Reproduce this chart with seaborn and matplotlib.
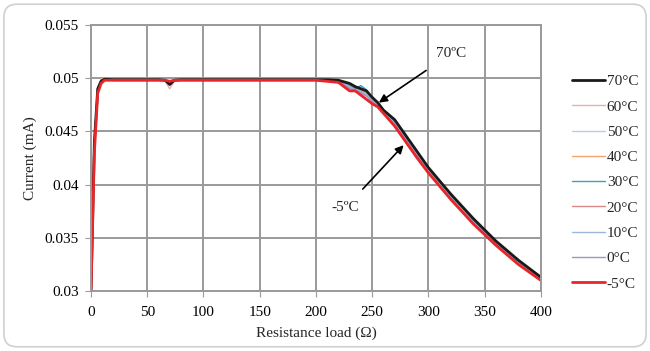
import numpy as np
import pandas as pd
import matplotlib
matplotlib.use('Agg')
import matplotlib.pyplot as plt
from matplotlib.patches import FancyBboxPatch
import seaborn as sns

# data
resistance = [0, 3, 6, 9, 12, 20, 60, 66, 70, 74, 80, 150, 200, 210, 220, 225, 230,
              235, 240, 245, 250, 255, 260, 270, 280, 290, 300, 320, 340, 360, 380, 400]

series_names = ['70°C', '60°C', '50°C', '40°C', '30°C', '20°C', '10°C', '0°C', '-5°C']

i_70 = [0.030, 0.0440, 0.0490, 0.0497, 0.0499, 0.04985, 0.04985, 0.0498, 0.0494, 0.0498, 0.04985,
        0.04985, 0.04985, 0.04985, 0.0498, 0.04965, 0.0495, 0.0492, 0.0490, 0.0488, 0.0482, 0.0477,
        0.0470, 0.0461, 0.0446, 0.0431, 0.0416, 0.0391, 0.0368, 0.0347, 0.0329, 0.0313]
i_60 = [0.030, 0.0442, 0.0491, 0.0499, 0.0500, 0.04985, 0.04985, 0.0497, 0.0490, 0.0497, 0.04985,
        0.04985, 0.04985, 0.04985, 0.0498, 0.0496, 0.0494, 0.0491, 0.0489, 0.0487, 0.0481, 0.0476,
        0.0469, 0.0460, 0.0445, 0.0430, 0.0415, 0.0390, 0.0367, 0.0346, 0.0328, 0.0312]
i_50 = [0.030, 0.0441, 0.0490, 0.0498, 0.0499, 0.04985, 0.04985, 0.0498, 0.0497, 0.0498, 0.04985,
        0.04985, 0.04985, 0.04985, 0.0498, 0.0496, 0.0493, 0.0491, 0.0492, 0.0487, 0.0482, 0.0475,
        0.0469, 0.0460, 0.0445, 0.0430, 0.0415, 0.0390, 0.0367, 0.0346, 0.0328, 0.0312]
i_40 = [0.030, 0.0442, 0.0491, 0.0499, 0.0500, 0.04985, 0.04985, 0.0498, 0.0497, 0.0498, 0.04985,
        0.04985, 0.04985, 0.04985, 0.0498, 0.0496, 0.0494, 0.0490, 0.0489, 0.0486, 0.0481, 0.0477,
        0.0470, 0.0459, 0.0444, 0.0429, 0.0414, 0.0389, 0.0366, 0.0345, 0.0327, 0.0311]
i_30 = [0.030, 0.0440, 0.0490, 0.0498, 0.0499, 0.04985, 0.04985, 0.0498, 0.0497, 0.0498, 0.04985,
        0.04985, 0.04985, 0.04985, 0.0498, 0.0496, 0.0493, 0.0490, 0.0493, 0.0489, 0.0480, 0.0474,
        0.0469, 0.0459, 0.0444, 0.0429, 0.0414, 0.0389, 0.0366, 0.0345, 0.0327, 0.0311]
i_20 = [0.030, 0.0439, 0.0489, 0.0497, 0.0499, 0.04985, 0.04985, 0.0498, 0.0497, 0.0498, 0.04985,
        0.04985, 0.04985, 0.04985, 0.0497, 0.0495, 0.0491, 0.0489, 0.0487, 0.0484, 0.0479, 0.0475,
        0.0468, 0.0458, 0.0443, 0.0428, 0.0413, 0.0388, 0.0365, 0.0344, 0.0326, 0.0311]
i_10 = [0.030, 0.0439, 0.0489, 0.0497, 0.0499, 0.04985, 0.04985, 0.0498, 0.0497, 0.0498, 0.04985,
        0.04985, 0.04985, 0.04985, 0.0497, 0.0495, 0.0492, 0.0489, 0.0488, 0.0485, 0.0480, 0.0474,
        0.0468, 0.0458, 0.0443, 0.0428, 0.0413, 0.0388, 0.0365, 0.0344, 0.0326, 0.0311]
i_0 = [0.030, 0.0438, 0.0489, 0.0497, 0.0499, 0.04985, 0.04985, 0.0498, 0.0497, 0.0498, 0.04985,
       0.04985, 0.04985, 0.04985, 0.0497, 0.0494, 0.0490, 0.0489, 0.0486, 0.0483, 0.0478, 0.0474,
       0.0467, 0.0457, 0.0442, 0.0427, 0.0412, 0.0387, 0.0364, 0.0344, 0.0326, 0.0310]
i_m5 = [0.030, 0.0430, 0.0486, 0.0495, 0.0498, 0.0498, 0.0498, 0.0498, 0.0497, 0.0498, 0.0498,
        0.0498, 0.0498, 0.0497, 0.0496, 0.0492, 0.0488, 0.0488, 0.0484, 0.0480, 0.0476, 0.0473,
        0.0467, 0.0455, 0.0440, 0.0425, 0.0411, 0.0386, 0.0363, 0.0343, 0.0325, 0.0310]

all_series = [i_70, i_60, i_50, i_40, i_30, i_20, i_10, i_0, i_m5]

colors = ['#1a1a1a', '#e6b0b0', '#b9cde5', '#f4a36a', '#3f9fb5', '#d98a88', '#9bb7d9', '#a493c2', '#e8262a']
widths = [2.0, 1.0, 1.0, 1.0, 1.0, 1.0, 1.0, 1.0, 2.0]

y_ticks = [0.03, 0.035, 0.04, 0.045, 0.05, 0.055]
y_tick_labels = ['0.03', '0.035', '0.04', '0.045', '0.05', '0.055']
x_ticks = [0, 50, 100, 150, 200, 250, 300, 350, 400]

rows = []
for name, vals in zip(series_names, all_series):
    for r, v in zip(resistance, vals):
        rows.append({'Resistance': r, 'Current': v, 'Temp': name})
df = pd.DataFrame(rows)

sns.set_style('white')
plt.rcParams['font.family'] = ['Liberation Serif', 'DejaVu Serif']

fig = plt.figure(figsize=(6.5, 3.51), dpi=100)
ax = fig.add_axes([0.14, 0.171, 0.692, 0.758])

# rounded frame round the chart
frame = FancyBboxPatch((0.006, 0.012), 0.988, 0.976, boxstyle='round,pad=0,rounding_size=0.02',
                       transform=fig.transFigure, facecolor='none', edgecolor='#d0d0d0',
                       linewidth=1.2, mutation_aspect=6.5 / 3.51)
fig.patches.append(frame)

# draw the -5 and 70 lines last so they sit on top
order = [1, 2, 3, 4, 5, 6, 7, 0, 8]
for k in order:
    sub = df[df['Temp'] == series_names[k]]
    sns.lineplot(data=sub, x='Resistance', y='Current', ax=ax, color=colors[k],
                 linewidth=widths[k], label=series_names[k], legend=False)

fs = 11

ax.set_xlim(0, 400)
ax.set_ylim(0.03, 0.055)
ax.set_xticks(x_ticks)
ax.set_yticks(y_ticks)
ax.set_yticklabels(y_tick_labels)
ax.grid(True, color='#9a9a9a', linewidth=1.4)
ax.set_axisbelow(True)
for s in ax.spines.values():
    s.set_color('#9a9a9a')
    s.set_linewidth(1.4)
ax.tick_params(axis='both', labelsize=fs, colors='black', length=4, color='#9a9a9a')
ax.tick_params(axis='y', left=True, pad=5)
ax.tick_params(axis='x', bottom=True, pad=7)

ax.set_xlabel('Resistance load (Ω)', fontsize=fs, labelpad=5)
ax.set_ylabel('Current (mA)', fontsize=fs, labelpad=5)

# annotations
ax.annotate('70ºC', xy=(256, 0.0477), xytext=(320, 0.0523),
            fontsize=fs, ha='center', va='center',
            arrowprops=dict(arrowstyle='-|>', color='black', lw=1.2, shrinkA=9, shrinkB=0,
                            mutation_scale=12))
ax.annotate('-5ºC', xy=(278, 0.0437), xytext=(226, 0.0378),
            fontsize=fs, ha='center', va='center',
            arrowprops=dict(arrowstyle='-|>', color='black', lw=1.2, shrinkA=9, shrinkB=0,
                            mutation_scale=12))

handles = [plt.Line2D([0], [0], color=c, lw=w) for c, w in zip(colors, widths)]
fig.legend(handles, series_names, loc='upper left', bbox_to_anchor=(0.87, 0.805),
           frameon=False, fontsize=fs, handlelength=2.2, handletextpad=0.1,
           labelspacing=0.76, borderaxespad=0)

fig.savefig('out.png', dpi=100)
